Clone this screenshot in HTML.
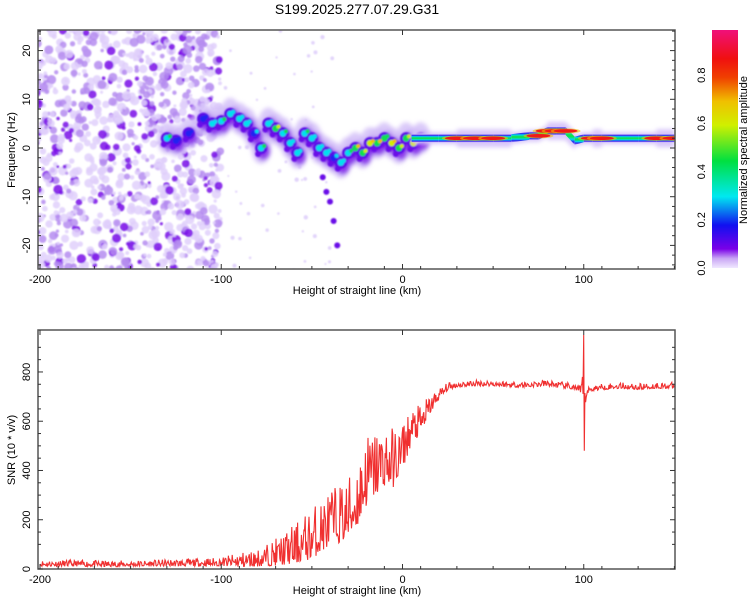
<!DOCTYPE html>
<html><head><meta charset="utf-8"><style>
body{margin:0;background:#fff;width:750px;height:600px;overflow:hidden;font-family:"Liberation Sans",sans-serif}
svg text{font-family:"Liberation Sans",sans-serif;fill:#000}
</style></head><body>
<svg id="chart" width="750" height="600" xmlns="http://www.w3.org/2000/svg">
<defs>
<linearGradient id="cb" x1="0" y1="1" x2="0" y2="0">
<stop offset="0" stop-color="#f0e8ff"/><stop offset="0.04" stop-color="#c9a6f5"/><stop offset="0.08" stop-color="#7a00e8"/>
<stop offset="0.18" stop-color="#1010f0"/><stop offset="0.3" stop-color="#00e8f0"/><stop offset="0.45" stop-color="#00e040"/>
<stop offset="0.6" stop-color="#d0f000"/><stop offset="0.7" stop-color="#f0c000"/><stop offset="0.8" stop-color="#f04000"/>
<stop offset="0.88" stop-color="#f01010"/><stop offset="1" stop-color="#f0107a"/></linearGradient>
<linearGradient id="band" x1="0" y1="0" x2="0" y2="1">
<stop offset="0" stop-color="#b9a0f5"/><stop offset="0.15" stop-color="#3020f0"/><stop offset="0.3" stop-color="#00d8f0"/>
<stop offset="0.45" stop-color="#10e050"/><stop offset="0.55" stop-color="#10e050"/><stop offset="0.7" stop-color="#00d8f0"/>
<stop offset="0.85" stop-color="#3020f0"/><stop offset="1" stop-color="#b9a0f5"/></linearGradient>
<filter id="blur"><feGaussianBlur stdDeviation="0.8"/></filter>
<filter id="blur2"><feGaussianBlur stdDeviation="2"/></filter>
<clipPath id="c1"><rect x="38" y="30" width="637" height="239"/></clipPath>
<clipPath id="c2"><rect x="38" y="330" width="637" height="239"/></clipPath>
</defs>
<text x="357" y="14" font-size="14" text-anchor="middle">S199.2025.277.07.29.G31</text>
<g id="top"></g>
<g id="bot"></g>
<g id="cbar"></g>
</svg>
<script>
// ---- data ----
const xTicks=[-200,-100,0,100];
const freqTicks=[-20,-10,0,10,20];
const snrTicks=[0,200,400,600,800];
const cbTicks=[0.0,0.2,0.4,0.6,0.8];
// ridge of the spectrogram: height (km), frequency (Hz), amplitude
const ridgeH=[-130,-125,-118,-110,-105,-100,-95,-90,-86,-82,-78,-74,-70,-66,-62,-58,-54,-50,-46,-42,-38,-34,-30,-26,-22,-18,-14,-10,-6,-2,2,6,10];
const ridgeF=[2,1.5,3,6,5,5.5,7,6,5,3,0,5,4,3,1,-1,3,2,0,-1,-2,-3,-1,0,-1,1,1,2,1,0,2,1,2];
const ridgeA=[0.35,0.2,0.2,0.2,0.3,0.35,0.3,0.3,0.3,0.25,0.4,0.3,0.5,0.35,0.3,0.3,0.35,0.3,0.3,0.3,0.25,0.3,0.35,0.55,0.5,0.6,0.55,0.45,0.6,0.5,0.5,0.6,0.5];
const tailH=[-44,-42,-40,-38,-36];
const tailF=[-6,-9,-11,-15,-20];
// continuous band (height km -> frequency Hz, amplitude)
const bandH=[5,20,30,40,50,60,70,75,80,85,90,95,100,105,110,120,130,140,150];
const bandF=[2,2,2,2,2,2,2.5,2.5,3.5,3.5,3.5,1.5,2,2,2,2,2,2,2];
const bandA=[0.5,0.6,0.9,0.9,0.9,0.7,0.6,0.8,0.9,0.9,0.85,0.5,0.55,0.85,0.8,0.55,0.6,0.9,0.9];
// SNR envelope (base level and spike amplitude)
const snrH=[-200,-180,-160,-140,-120,-100,-90,-80,-70,-60,-50,-40,-30,-25,-20,-10,-5,0,5,10,15,20,25,30,40,50,60,70,80,90,95,98,100,102,105,110,120,130,140,150];
const snrV=[18,18,16,18,20,22,25,30,45,65,100,160,190,250,340,410,400,460,550,580,650,700,735,745,750,750,745,745,750,740,735,720,700,720,730,735,740,735,740,740];
const snrNoise=[25,25,25,25,30,35,60,70,110,160,210,230,260,280,300,260,240,200,150,120,80,50,30,25,25,25,25,25,25,25,25,30,250,30,25,25,25,25,25,25];

const NS='http://www.w3.org/2000/svg';
function el(t,a,p){const e=document.createElementNS(NS,t);for(const k in a)e.setAttribute(k,a[k]);p.appendChild(e);return e;}
const X=h=>40+(h+200)*1.8125;
const Yf=f=>148-f*4.87;
const Ys=v=>569-v*0.2463;
function cmap(a){const s=[[0,'#e6d8ff'],[0.06,'#b98cf2'],[0.12,'#7a10e8'],[0.2,'#2020f0'],[0.3,'#00e0f0'],[0.45,'#10e050'],[0.6,'#d0f000'],[0.7,'#f0c000'],[0.8,'#f04000'],[0.9,'#f01010']];let c=s[0][1];for(const q of s)if(a>=q[0])c=q[1];return c;}
let seed=7;function rnd(){seed=(seed*16807)%2147483647;return seed/2147483647;}

const topG=document.getElementById('top');
const g1=el('g',{'clip-path':'url(#c1)'},topG);
// background noise texture (decoration)
const nz=el('g',{filter:'url(#blur)'},g1);
for(let i=0;i<1100;i++){const h=-202+rnd()*102;const f=-26+rnd()*52;const a=rnd();
 const c=el('circle',{cx:X(h),cy:Yf(f),r:1.5+rnd()*3.2,fill:a<0.15?'#7a10e8':(a<0.45?'#b58cf0':'#e0d0fb'),opacity:0.85},nz);
 
 }
for(let i=0;i<60;i++){const h=-98+rnd()*60;const f=-25+rnd()*50;el('circle',{cx:X(h),cy:Yf(f),r:1+rnd()*1.2,fill:'#e2d4fb'},nz);}
// ridge
const halo=el('g',{filter:'url(#blur2)'},g1);
ridgeH.forEach((h,i)=>{el('ellipse',{cx:X(h),cy:Yf(ridgeF[i]),rx:10,ry:16,fill:'#d2bdf8',opacity:0.8},halo);});
ridgeH.forEach((h,i)=>{el('ellipse',{cx:X(h)+2,cy:Yf(ridgeF[i])+3,rx:7,ry:9,fill:'#7a18e8',opacity:0.8},halo);});
const rg=el('g',{filter:'url(#blur)'},g1);
ridgeH.forEach((h,i)=>{el('ellipse',{cx:X(h),cy:Yf(ridgeF[i]),rx:6,ry:6,fill:'#5a10e8'},rg);
 el('circle',{cx:X(h)-3,cy:Yf(ridgeF[i])+6,r:3,fill:'#6a10e8'},rg);});
ridgeH.forEach((h,i)=>{const c=el('circle',{cx:X(h),cy:Yf(ridgeF[i]),r:3.2,fill:cmap(ridgeA[i])},rg);
 
 
 el('circle',{cx:X(h)+3,cy:Yf(ridgeF[i])-2,r:2,fill:cmap(ridgeA[i]*1.3)},rg);});
tailH.forEach((h,i)=>{const c=el('circle',{cx:X(h),cy:Yf(tailF[i]),r:3,fill:'#6a10e8'},rg);
 
 });
// band
const bg=el('g',{},g1);
const bh=el('g',{filter:'url(#blur2)'},bg);
for(let i=0;i<bandH.length-1;i++){const x0=X(bandH[i]),x1=X(bandH[i+1]);const y0=Yf(bandF[i]),y1=Yf(bandF[i+1]);
 const w=bandA[i]>0.8?9:6;
 el('polygon',{points:`${x0},${y0-w} ${x1},${y1-w} ${x1},${y1+w} ${x0},${y0+w}`,fill:'#d8c6fa'},bh);}
for(let i=0;i<bandH.length-1;i++){const x0=X(bandH[i]),x1=X(bandH[i+1]);const y0=Yf(bandF[i]),y1=Yf(bandF[i+1]);
 el('polygon',{points:`${x0},${y0-4} ${x1},${y1-4} ${x1},${y1+4} ${x0},${y0+4}`,fill:'url(#band)'},bg);}
bandH.forEach((h,i)=>{if(bandA[i]>0.7){
 el('ellipse',{cx:X(h),cy:Yf(bandF[i]),rx:15,ry:2.6,fill:'#f0c000',opacity:0.6},bg);
 const c=el('ellipse',{cx:X(h),cy:Yf(bandF[i]),rx:12,ry:1.8,fill:'#f01818'},bg);
 
 }});
// frame & axes
function frame(p,y0,y1){el('rect',{x:38,y:y0,width:637,height:y1-y0,fill:'none',stroke:'#555','stroke-width':1.5},p);
 xTicks.forEach(t=>{el('line',{x1:X(t),x2:X(t),y1:y1,y2:y1-5,stroke:'#333'},p);el('line',{x1:X(t),x2:X(t),y1:y0,y2:y0+5,stroke:'#333'},p);
 const tx=el('text',{x:X(t),y:y1+14,'font-size':11,'text-anchor':'middle'},p);tx.textContent=t;
 
 });
 for(let t=-190;t<=150;t+=20){if(t%100==0)continue;el('line',{x1:X(t),x2:X(t),y1:y1,y2:y1-3,stroke:'#333'},p);}
 const xl=el('text',{x:357,y:y1+25,'font-size':11,'text-anchor':'middle'},p);xl.textContent='Height of straight line (km)';
 
 }
frame(topG,30,269);
freqTicks.forEach(t=>{el('line',{x1:38,x2:43,y1:Yf(t),y2:Yf(t),stroke:'#333'},topG);el('line',{x1:675,x2:670,y1:Yf(t),y2:Yf(t),stroke:'#333'},topG);
 const tx=el('text',{x:0,y:0,'font-size':11,'text-anchor':'middle',transform:`translate(30,${Yf(t)}) rotate(-90)`},topG);tx.textContent=t;
 
 });
for(let t=-24;t<=24;t+=2){if(t%10==0)continue;el('line',{x1:38,x2:41,y1:Yf(t),y2:Yf(t),stroke:'#333'},topG);el('line',{x1:675,x2:672,y1:Yf(t),y2:Yf(t),stroke:'#333'},topG);}
const yl=el('text',{'font-size':11,'text-anchor':'middle',transform:'translate(15,150) rotate(-90)'},topG);yl.textContent='Frequency (Hz)';



// bottom
const botG=document.getElementById('bot');
const g2=el('g',{'clip-path':'url(#c2)'},botG);
function interp(arr,h){for(let i=0;i<snrH.length-1;i++){if(h>=snrH[i]&&h<=snrH[i+1]){const t=(h-snrH[i])/(snrH[i+1]-snrH[i]);return arr[i]+(arr[i+1]-arr[i])*t;}}return arr[arr.length-1];}
let pts=[];seed=11;
for(let h=-200;h<=150;h+=0.35){let v=interp(snrV,h);let n=interp(snrNoise,h);
 if(Math.abs(h-100)<0.4){v=h<100?950:480;n=0;}
 v+= (Math.pow(rnd(),1.6)-0.28)*n;pts.push(X(h).toFixed(1)+','+Ys(Math.max(v,2)).toFixed(1));}
const ln=el('polyline',{points:pts.join(' '),fill:'none',stroke:'#f03030','stroke-width':1.1},g2);


frame(botG,330,569);
snrTicks.forEach(t=>{el('line',{x1:38,x2:43,y1:Ys(t),y2:Ys(t),stroke:'#333'},botG);el('line',{x1:675,x2:670,y1:Ys(t),y2:Ys(t),stroke:'#333'},botG);
 const tx=el('text',{'font-size':11,'text-anchor':'middle',transform:`translate(30,${Ys(t)}) rotate(-90)`},botG);tx.textContent=t;
 
 });
for(let t=100;t<=900;t+=50){if(t%200==0)continue;el('line',{x1:38,x2:41,y1:Ys(t),y2:Ys(t),stroke:'#333'},botG);el('line',{x1:675,x2:672,y1:Ys(t),y2:Ys(t),stroke:'#333'},botG);}
const yl2=el('text',{'font-size':11,'text-anchor':'middle',transform:'translate(15,450) rotate(-90)'},botG);yl2.textContent='SNR (10 * v/v)';



// colorbar
const cb=document.getElementById('cbar');
el('rect',{x:712,y:30,width:26,height:238,fill:'url(#cb)'},cb);
const Yc=v=>268-v*241;
cbTicks.forEach(t=>{const tx=el('text',{'font-size':11,'text-anchor':'middle',transform:`translate(705,${Yc(t)}) rotate(-90)`},cb);tx.textContent=t.toFixed(1);
 
 });
const cl=el('text',{'font-size':11,'text-anchor':'middle',transform:'translate(747,150) rotate(-90)'},cb);cl.textContent='Normalized spectral amplitude';


</script>
</body></html>
